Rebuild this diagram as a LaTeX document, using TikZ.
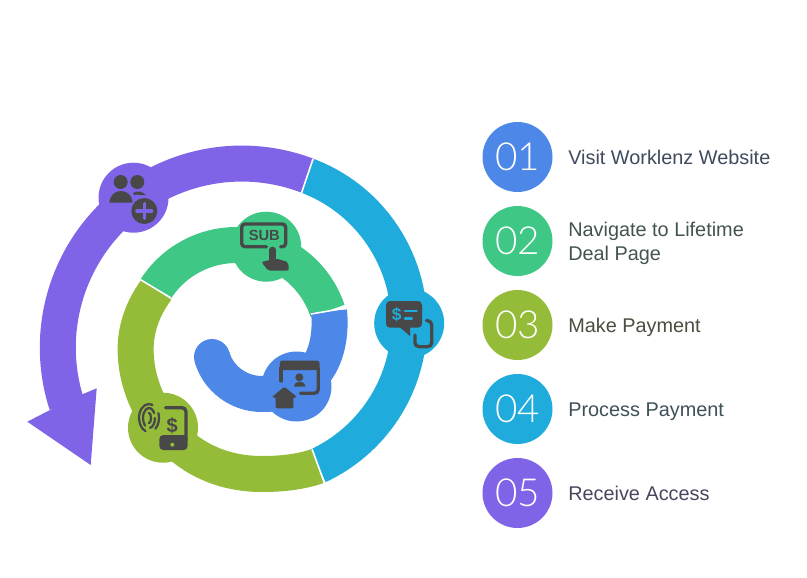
\documentclass[tikz,border=0pt]{standalone}
\usepackage{fontspec}
\setmainfont{Liberation Sans}
\newfontfamily\numfont{Lato Light}
\definecolor{cblue}{HTML}{4D87E8}
\definecolor{cgreen}{HTML}{3EC785}
\definecolor{clime}{HTML}{94BC38}
\definecolor{cteal}{HTML}{1FABDB}
\definecolor{cpurple}{HTML}{8064E8}
\definecolor{cicon}{HTML}{484848}
\definecolor{tblue}{HTML}{3F4A5E}
\definecolor{tgreen}{HTML}{43544E}
\definecolor{tlime}{HTML}{4A4E3E}
\definecolor{tteal}{HTML}{3E5058}
\definecolor{tpurple}{HTML}{48465E}
\tikzset{
	band/.style = {line width = 27pt},
	disc/.style = {circle, minimum size = 52.5pt, inner sep = 0pt},
	numlabel/.style = {disc, text = white, font = \numfont\fontsize{29}{29}\selectfont},
	steplabel/.style = {anchor = base west, align = left, inner sep = 0pt, font = \fontsize{14.9}{18}\selectfont},
	gapline/.style = {draw = white, line width = 1.2pt},
	iconline/.style = {draw = cicon, line width = 2.5pt, line cap = round},
	printline/.style = {draw = cicon, line width = 1.7pt, line cap = round},
	iconfill/.style = {fill = cicon}
}
\begin{document}
\begin{tikzpicture}[x = 0.75pt, y = -0.75pt]
	\useasboundingbox (0, 0) rectangle (807, 578);

	\coordinate (g1) at (141, 280);
	\coordinate (g2) at (171, 298);
	\coordinate (u1) at (346, 308);
	\coordinate (u2) at (311, 314);
	\coordinate (t1) at (313, 159);
	\coordinate (t2) at (301.5, 193);
	\coordinate (t3) at (324.5, 483);
	\coordinate (t4) at (312, 449);

	\coordinate (h1) at (46.7, 411.7);
	\coordinate (h2) at (27.3, 421.7);
	\coordinate (h3) at (90.7, 465);
	\coordinate (h4) at (96.7, 388.3);
	\coordinate (h5) at (78.3, 396);

	\draw [band, cpurple] (241.8, 347.6) ++(-69:184) arc [start angle = -69, end angle = -198, radius = 184];
	\fill [cpurple] (h1) -- (h2) -- (h3) -- (h4) -- (h5) -- cycle;
	\draw [band, cteal] (251.6, 323) ++(-69.2:157.5) arc [start angle = -69.2, end angle = 65.1, radius = 157.5];
	\draw [band, clime] (156.5, 289.5) .. controls (140, 312) and (134, 335) .. (136, 358) .. controls (139, 405) and (178, 474) .. (262, 474) .. controls (282, 474) and (300, 472) .. (318, 466);
	\draw [band, cgreen] (236.4, 341) ++(-147.1:96) arc [start angle = -147.1, end angle = -18.3, radius = 96];
	\draw [band, cblue] (329, 311) .. controls (333, 350) and (318, 395) .. (262, 394) .. controls (238, 394) and (218, 378) .. (212, 357);
	\fill [cblue] (212, 357) circle [radius = 18];

	\draw [gapline] (g1) -- (g2);
	\draw [gapline] (u1) -- (u2);
	\draw [gapline] (t1) -- (t2);
	\draw [gapline] (t3) -- (t4);

	\node [disc, fill = cpurple] (d5) at (133.5, 197.7) {};
	\node [disc, fill = cgreen] (d2) at (266.2, 246.7) {};
	\node [disc, fill = cblue] (d1) at (296.5, 386.5) {};
	\node [disc, fill = clime] (d3) at (163, 427.7) {};
	\node [disc, fill = cteal] (d4) at (409.2, 323.3) {};

	\fill [iconfill] (120.7, 182) circle [radius = 7];
	\fill [iconfill] (137.3, 182) circle [radius = 7];
	\fill [iconfill] (109.3, 202.7) .. controls (110, 195) and (115, 191) .. (121, 191) .. controls (127, 191) and (132, 195) .. (132.7, 202.7) -- cycle;
	\fill [iconfill] (133, 193) .. controls (137, 190.5) and (142, 191) .. (146, 195) -- (141, 195) .. controls (138, 194.5) and (136, 194.5) .. (134.5, 195) -- cycle;
	\fill [iconfill] (144.3, 211) circle [radius = 13];
	\draw [cpurple, line width = 2.4pt, line cap = round] (136.8, 211) -- (151.8, 211);
	\draw [cpurple, line width = 2.4pt, line cap = round] (144.3, 203.5) -- (144.3, 218.5);

	\draw [iconline, rounded corners = 2.5pt] (266.5, 246.7) -- (241.7, 246.7) -- (241.7, 224) -- (285.7, 224) -- (285.7, 246.7) -- (280.5, 246.7);
	\node [inner sep = 0pt, text = cicon, font = \bfseries\fontsize{11}{11}\selectfont] (sub) at (264.3, 235) {SUB};
	\draw [iconline, line width = 5pt] (272.7, 250) -- (272.7, 264);
	\fill [iconfill, rounded corners = 1.5pt] (261.5, 262) -- (276, 258.5) -- (288, 262) -- (289, 270.5) -- (268, 270.5) -- cycle;

	\fill [iconfill, rounded corners = 3pt] (386, 301) rectangle (422, 327.7);
	\fill [iconfill] (398.3, 326) -- (410, 336) -- (410, 326) -- cycle;
	\node [inner sep = 0pt, text = cteal, font = \bfseries\fontsize{13}{13}\selectfont] (dollar4) at (396.7, 315) {\$};
	\draw [cteal, line width = 2pt, line cap = round] (405, 311) -- (416.7, 311);
	\draw [cteal, line width = 2pt, line cap = round] (405, 318.3) -- (411.7, 318.3);
	\draw [iconline, rounded corners = 3pt] (415, 335) -- (415, 346.7) -- (431.7, 346.7) -- (431.7, 321) -- (426.5, 320.5);

	\fill [iconfill, rounded corners = 2pt] (279.8, 370) -- (279.8, 360.5) -- (319.5, 360.5) -- (319.5, 370) -- cycle;
	\draw [iconline, rounded corners = 3pt] (281, 368) -- (281, 381);
	\draw [iconline, rounded corners = 3pt] (318.3, 368) -- (318.3, 393.3) -- (300.5, 393.3);
	\fill [iconfill] (299.3, 377.3) circle [radius = 4];
	\fill [iconfill] (294, 386.7) .. controls (294.5, 383) and (297, 381.7) .. (299.7, 381.7) .. controls (302.5, 381.7) and (305, 383) .. (305.3, 386.7) -- cycle;
	\fill [iconfill, rounded corners = 1pt] (284.3, 386.7) -- (271.7, 397.3) -- (275.7, 397.3) -- (275.7, 408.3) -- (293.3, 408.3) -- (293.3, 397.3) -- (297.3, 397.3) -- cycle;

	\draw [iconline, rounded corners = 3pt] (165.5, 407.7) -- (186, 407.7) -- (186, 440);
	\fill [iconfill, rounded corners = 3pt] (159.3, 435) -- (187.7, 435) -- (187.7, 450) -- (159.3, 450) -- cycle;
	\fill [clime] (172.3, 444.7) circle [radius = 2];
	\node [inner sep = 0pt, text = cicon, font = \bfseries\fontsize{15}{15}\selectfont] (dollar3) at (172.3, 425.5) {\$};
	\draw [printline] ([shift = {(-70:10 and 14)}] 149, 418) arc [start angle = -70, end angle = -250, x radius = 10, y radius = 14];
	\draw [printline] ([shift = {(-20:10 and 14)}] 149, 418) arc [start angle = -20, end angle = 50, x radius = 10, y radius = 14];
	\draw [printline] ([shift = {(-30:6 and 10)}] 149, 418) arc [start angle = -30, end angle = -230, x radius = 6, y radius = 10];
	\draw [printline] ([shift = {(0:6 and 10)}] 149, 418) arc [start angle = 0, end angle = 80, x radius = 6, y radius = 10];
	\draw [printline] ([shift = {(-90:2 and 5)}] 149, 418) arc [start angle = -90, end angle = 90, x radius = 2, y radius = 5];

	\node [numlabel, fill = cblue] (n1) at (517.5, 157) {01};
	\node [numlabel, fill = cgreen] (n2) at (517.5, 241) {02};
	\node [numlabel, fill = clime] (n3) at (517.5, 325) {03};
	\node [numlabel, fill = cteal] (n4) at (517.5, 409) {04};
	\node [numlabel, fill = cpurple] (n5) at (517.5, 493) {05};

	\node [steplabel, text = tblue] (s1) at (568, 164) {Visit Worklenz Website};
	\node [steplabel, anchor = west, text = tgreen] (s2) at (568, 243.5) {Navigate to Lifetime\\Deal Page};
	\node [steplabel, text = tlime] (s3) at (568, 332) {Make Payment};
	\node [steplabel, text = tteal] (s4) at (568, 416) {Process Payment};
	\node [steplabel, text = tpurple] (s5) at (568, 500) {Receive Access};
\end{tikzpicture}
\end{document}
